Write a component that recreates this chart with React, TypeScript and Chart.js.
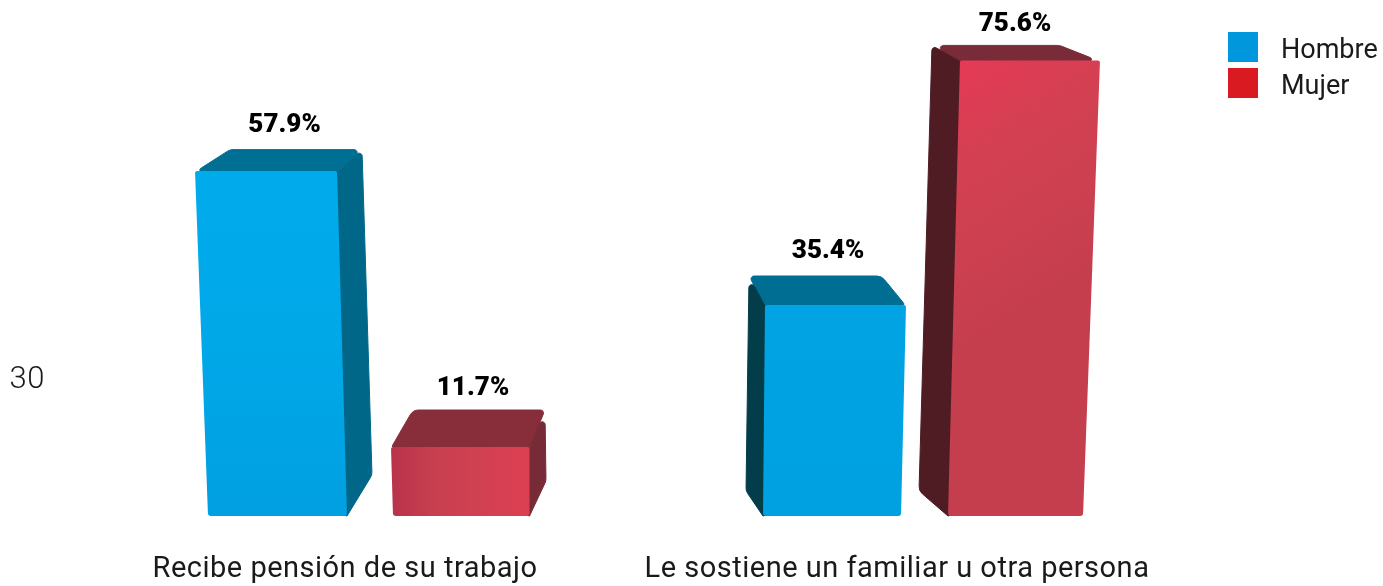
import React, { useEffect, useRef } from "react";
import { Chart, registerables } from "chart.js";

Chart.register(...registerables);

const categories = ["Recibe pensión de su trabajo", "Le sostiene un familiar u otra persona"];
const hombre = [57.9, 35.4];
const mujer = [11.7, 75.6];
const FONT = "Roboto, sans-serif";

// Per-bar drawing style: corner offsets relative to the bar element (x from bar centre,
// top points from the value position, bottom points from the baseline).
type Look = {
  xs: { ftl: number; ftr: number; fbl: number; fbr: number; btl: number; btr: number; sb: number };
  ft: number; bt: number; sb: number; side: "left" | "right"; dir: "h" | "v" | "d";
  front: string[]; topC: string; sideC: string; lx: number; ly: number;
};
const looks: Look[][] = [
  [
    { xs: { ftl: -56.5, ftr: 85.5, fbl: -43.5, fbr: 95.5, btl: -21.5, btr: 110.5, sb: 120.5 }, ft: 2.4, bt: -19, sb: -41, side: "right", dir: "v",
      front: ["#00ABEC", "#00A8E8", "#00A0E2"], topC: "#006F94", sideC: "#006788", lx: 33, ly: -43 },
    { xs: { ftl: -38.5, ftr: 102.5, fbl: -40.5, fbr: 97.5, btl: -54.5, btr: 78, sb: -57.5 }, ft: 1.4, bt: -27.6, sb: -25, side: "left", dir: "v",
      front: ["#00A3E3", "#00A2E2", "#00A1E1"], topC: "#006E92", sideC: "#033D4A", lx: 24.5, ly: -52 },
  ],
  [
    { xs: { ftl: -47.5, ftr: 91, fbl: -45.5, fbr: 91, btl: -25.5, btr: 106.5, sb: 107.5 }, ft: 1.2, bt: -35.8, sb: -35, side: "right", dir: "h",
      front: ["#B8324A", "#C84050", "#D24052", "#DC4052"], topC: "#872E3A", sideC: "#762B36", lx: 34.5, ly: -57 },
    { xs: { ftl: -30.5, ftr: 109.5, fbl: -42.5, fbr: 92.5, btl: -58.5, btr: 69, sb: -71.5 }, ft: -2, bt: -17, sb: -25, side: "left", dir: "d",
      front: ["#E53A56", "#D44052", "#CC4050", "#C43E4E"], topC: "#7A2B38", sideC: "#4E1C22", lx: 24.5, ly: -38 },
  ],
];

type Pt = number[];
function roundedPoly(ctx: CanvasRenderingContext2D, pts: Pt[], r: number[]) {
  const n = pts.length;
  const a = pts[0], b = pts[n - 1];
  ctx.beginPath();
  ctx.moveTo((a[0] + b[0]) / 2, (a[1] + b[1]) / 2);
  for (let i = 0; i < n; i++) {
    const p = pts[i], q = pts[(i + 1) % n];
    ctx.arcTo(p[0], p[1], q[0], q[1], r[i]);
  }
  ctx.closePath();
}

const bars3d = {
  id: "bars3d",
  beforeDraw(chart: any) {
    chart.ctx.letterSpacing = "0.5px";
  },
  beforeDatasetDraw(chart: any, args: any) {
    const ctx = chart.ctx;
    const di = args.index;
    args.meta.data.forEach((el: any, i: number) => {
      const s = looks[di][i];
      const cx = el.x, yv = el.y, yb = el.base;
      const P = {
        ftl: [cx + s.xs.ftl, yv + s.ft], ftr: [cx + s.xs.ftr, yv + s.ft],
        fbl: [cx + s.xs.fbl, yb], fbr: [cx + s.xs.fbr, yb],
        btl: [cx + s.xs.btl, yv + s.bt], btr: [cx + s.xs.btr, yv + s.bt],
        sb: [cx + s.xs.sb, yb + s.sb],
      };
      const right = s.side === "right";
      const ftop = right ? P.ftr : P.ftl;
      const btop = right ? P.btr : P.btl;
      const fbot = right ? P.fbr : P.fbl;
      const inward = right ? -6 : 6;
      ctx.save();
      ctx.lineJoin = "round";
      ctx.lineWidth = 1;
      // top face
      ctx.fillStyle = ctx.strokeStyle = s.topC;
      roundedPoly(ctx, [[P.ftl[0], P.ftl[1] + 1], P.btl, P.btr, [P.ftr[0], P.ftr[1] + 1]], right ? [2, 10, 3, 2] : [2, 3, 10, 2]);
      ctx.fill();
      ctx.stroke();
      // side face
      ctx.fillStyle = ctx.strokeStyle = s.sideC;
      roundedPoly(ctx, [[ftop[0], ftop[1] + 1], btop, P.sb, fbot, [fbot[0] + inward, fbot[1] - 2], [ftop[0] + inward, ftop[1] + 4]], [0, 3, 10, 0, 0, 0]);
      ctx.fill();
      ctx.stroke();
      // front face
      const g = s.dir === "h" ? ctx.createLinearGradient(P.ftl[0], 0, P.ftr[0], 0)
        : s.dir === "v" ? ctx.createLinearGradient(0, P.ftl[1], 0, yb)
        : ctx.createLinearGradient(P.ftl[0], P.ftl[1], P.ftl[0] + 140, P.ftl[1] + 220);
      s.front.forEach((c, k) => g.addColorStop(k / (s.front.length - 1), c));
      ctx.fillStyle = g;
      roundedPoly(ctx, [P.ftl, P.ftr, P.fbr, P.fbl], [2, 2, 3, 3]);
      ctx.fill();
      ctx.restore();
    });
    return false;
  },
  afterDatasetsDraw(chart: any) {
    const ctx = chart.ctx;
    chart.data.datasets.forEach((ds: any, di: number) => {
      chart.getDatasetMeta(di).data.forEach((el: any, i: number) => {
        const s = looks[di][i];
        ctx.save();
        ctx.letterSpacing = "0px";
        ctx.font = `900 26px ${FONT}`;
        ctx.fillStyle = "#000000";
        ctx.textAlign = "center";
        ctx.textBaseline = "middle";
        ctx.fillText(`${ds.data[i].toFixed(1)}%`, el.x + s.lx, el.y + s.ly);
        ctx.restore();
      });
    });
    // legend, built from the datasets
    chart.data.datasets.forEach((ds: any, di: number) => {
      ctx.save();
      ctx.letterSpacing = "0px";
      const y = 32 + di * 36;
      ctx.fillStyle = ds.backgroundColor;
      ctx.fillRect(1228, y, 30, 30);
      ctx.font = `27px ${FONT}`;
      ctx.fillStyle = "#1a1a1a";
      ctx.textAlign = "left";
      ctx.textBaseline = "middle";
      ctx.fillText(ds.label, 1281, y + 19);
      ctx.restore();
    });
  },
};

export default function App() {
  const ref = useRef<HTMLCanvasElement>(null);
  useEffect(() => {
    document.body.style.margin = "0";
    const chart = new Chart(ref.current!, {
      type: "bar",
      data: {
        labels: categories,
        datasets: [
          { label: "Hombre", data: hombre, backgroundColor: "#0097DC" },
          { label: "Mujer", data: mujer, backgroundColor: "#DA1A21" },
        ],
      },
      plugins: [bars3d],
      options: {
        animation: false,
        responsive: false,
        categoryPercentage: 0.6775,
        barPercentage: 0.749,
        layout: { padding: { top: 36, right: 210, left: 0, bottom: 0 } },
        plugins: {
          tooltip: { enabled: false },
          legend: { display: false },
        },
        scales: {
          x: {
            grid: { display: false, drawTicks: false },
            border: { display: false },
            ticks: { color: "#1a1a1a", font: { family: FONT, size: 29 }, padding: 36, maxRotation: 0, autoSkip: false },
            afterFit: (s: any) => { s.height = 70; },
          },
          y: { display: false, min: 0, max: 80 },
          y2: {
            position: "left",
            min: 0,
            max: 480 / 4.53,
            grid: { display: false, drawTicks: false },
            border: { display: false },
            afterBuildTicks: (s: any) => { s.ticks = [{ value: 30 }]; },
            ticks: { color: "#1a1a1a", font: { family: FONT, size: 31, weight: "300" }, padding: 24 },
            afterFit: (s: any) => { s.width = 69; s.paddingTop = 0; s.paddingBottom = 0; },
          },
        },
      },
    } as any);
    return () => chart.destroy();
  }, []);
  return <canvas ref={ref} width={1383} height={586} style={{ display: "block" }} />;
}
